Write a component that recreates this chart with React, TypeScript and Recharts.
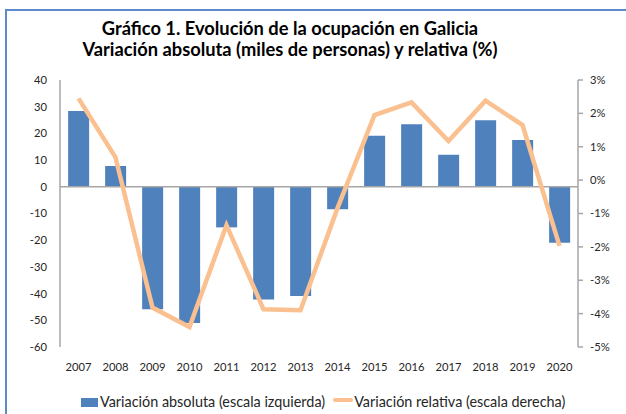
import React from 'react';
import { ComposedChart, Bar, Line, XAxis, YAxis, ReferenceLine } from 'recharts';

const years = ['2007', '2008', '2009', '2010', '2011', '2012', '2013', '2014', '2015', '2016', '2017', '2018', '2019', '2020'];
const absoluteVar = [28.4, 7.8, -45.9, -51.0, -15.2, -42.2, -40.9, -8.4, 19.1, 23.4, 12.0, 24.9, 17.5, -21.0];
const relativeVar = [2.45, 0.68, -3.82, -4.4, -1.35, -3.87, -3.9, -0.84, 1.95, 2.33, 1.17, 2.38, 1.65, -1.97];
const leftTicks = [40, 30, 20, 10, 0, -10, -20, -30, -40, -50, -60];
const rightTicks = [3, 2, 1, 0, -1, -2, -3, -4, -5];

const titleLines = ['Gráfico 1. Evolución de la ocupación en Galicia', 'Variación absoluta (miles de personas) y relativa (%)'];
const barName = 'Variación absoluta (escala izquierda)';
const lineName = 'Variación relativa (escala derecha)';

const data = years.map((y, i) => ({ year: y, abs: absoluteVar[i], rel: relativeVar[i] }));

const FONT = 'Lato, "Open Sans", sans-serif';
const BLUE = '#4f81bd';
const ORANGE = '#fac090';
const AXIS = '#a6a6a6';
const TEXT = '#262626';

export default function App() {
  return (
    <div style={{ position: 'fixed', left: 0, top: 0, width: 626, height: 414, overflow: 'hidden', background: '#fff', fontFamily: FONT }}>
      <div style={{ position: 'absolute', left: 5, top: 9, width: 700, height: 500, border: '2px solid #5b8bc9', boxSizing: 'border-box' }} />
      <div style={{ position: 'absolute', left: 0, top: 18, width: 580, textAlign: 'center', fontWeight: 700, fontSize: 18.3, lineHeight: '20.5px', color: '#000' }}>
        <div>{titleLines[0]}</div>
        <div>{titleLines[1]}</div>
      </div>
      <div style={{ position: 'absolute', left: 0, top: 0 }}>
        <ComposedChart width={626} height={414} data={data} margin={{ top: 80, right: 0, left: 0, bottom: 37 }} barCategoryGap="22%">
          <XAxis dataKey="year" axisLine={false} tickLine={false} tickSize={0} tickMargin={16} height={30}
            tick={{ fontSize: 11.2, fill: TEXT, fontFamily: FONT }} interval={0} />
          <YAxis yAxisId="left" orientation="left" domain={[-60, 40]} ticks={leftTicks} width={60}
            axisLine={{ stroke: AXIS, strokeWidth: 1.5 }} tickLine={false} tickSize={0} tickMargin={13}
            tick={{ fontSize: 11.2, fill: TEXT, fontFamily: FONT }} interval={0} />
          <YAxis yAxisId="right" orientation="right" domain={[-5, 3]} ticks={rightTicks} width={48}
            axisLine={{ stroke: AXIS, strokeWidth: 1.5 }} tickLine={{ stroke: AXIS, strokeWidth: 1.5 }} tickSize={5} tickMargin={7}
            tickFormatter={(v: number) => `${v}%`}
            tick={{ fontSize: 11.2, fill: TEXT, fontFamily: FONT, textAnchor: 'start' }} interval={0} />
          <Bar yAxisId="left" dataKey="abs" name={barName} fill={BLUE} isAnimationActive={false} />
          <ReferenceLine yAxisId="left" y={0} stroke={AXIS} strokeWidth={1.5} />
          <Line yAxisId="right" dataKey="rel" name={lineName} stroke={ORANGE} strokeWidth={4.5} dot={false}
            strokeLinejoin="miter" isAnimationActive={false} />
        </ComposedChart>
      </div>
      <div style={{ position: 'absolute', left: 81, top: 394, height: 16, display: 'flex', alignItems: 'center', fontSize: 14.4, lineHeight: '16px', color: TEXT, whiteSpace: 'nowrap' }}>
        <span style={{ display: 'inline-block', width: 17, height: 9, background: BLUE, marginRight: 2 }} />
        <span>{barName}</span>
        <span style={{ display: 'inline-block', width: 20, height: 3.5, background: ORANGE, marginLeft: 8, marginRight: 1, position: 'relative', top: -2, borderRadius: 2 }} />
        <span>{lineName}</span>
      </div>
    </div>
  );
}
